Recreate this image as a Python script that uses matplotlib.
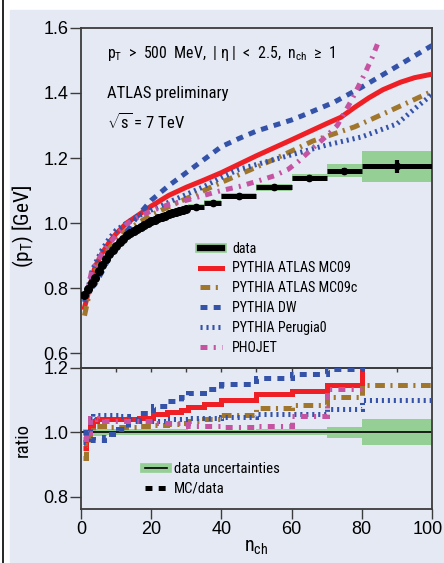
import numpy as np
import matplotlib
matplotlib.use('Agg')
import matplotlib.pyplot as plt
from matplotlib.lines import Line2D
from matplotlib.patches import Rectangle
import matplotlib.transforms as mtransforms

# ---- data: <pT> vs n_ch (single bins up to 30, wider after)
n_single = np.arange(1, 31)
pt_single = [0.780, 0.798, 0.815, 0.832, 0.852, 0.872, 0.889, 0.904, 0.918, 0.930,
             0.941, 0.952, 0.962, 0.970, 0.977, 0.983, 0.989, 0.995, 1.000, 1.005,
             1.010, 1.015, 1.019, 1.023, 1.027, 1.031, 1.035, 1.038, 1.041, 1.044]
syst_single = 0.009
wide_lo = [30.5, 35, 40, 50, 60, 70, 80]
wide_hi = [35, 40, 50, 60, 70, 80, 100]
pt_wide = [1.050, 1.063, 1.084, 1.110, 1.140, 1.161, 1.174]
syst_wide = [0.008, 0.008, 0.009, 0.010, 0.011, 0.020, 0.047]
stat_wide = [0.002, 0.002, 0.003, 0.004, 0.005, 0.008, 0.020]

# ---- MC predictions (top panel)
mc09_n = [1, 2, 3, 4, 6, 8, 10, 13, 16, 20, 25, 30, 35, 40, 50, 60, 66, 70, 74, 78, 82, 86,
          91, 95, 100]
mc09_pt = [0.740, 0.782, 0.827, 0.865, 0.907, 0.940, 0.967, 1.000, 1.022, 1.052, 1.085, 1.110,
           1.132, 1.155, 1.207, 1.256, 1.286, 1.306, 1.325, 1.356, 1.385, 1.410, 1.433, 1.447,
           1.458]
mc09c_n = [1, 2, 3, 4, 6, 8, 10, 13, 16, 20, 25, 30, 35, 40, 50, 55, 66, 78, 88, 100]
mc09c_pt = [0.715, 0.765, 0.815, 0.850, 0.888, 0.922, 0.945, 0.977, 0.998, 1.025, 1.050, 1.075,
            1.100, 1.125, 1.172, 1.196, 1.252, 1.296, 1.345, 1.405]
dw_n = [1, 2, 3, 4, 6, 8, 10, 13, 16, 20, 25, 30, 35, 40, 45, 50, 60, 63, 72, 80, 88, 100]
dw_pt = [0.768, 0.786, 0.800, 0.812, 0.850, 0.893, 0.925, 0.972, 1.020, 1.070, 1.115, 1.155,
         1.195, 1.235, 1.260, 1.283, 1.317, 1.330, 1.371, 1.418, 1.469, 1.546]
per_n = [1, 2, 3, 4, 6, 8, 10, 13, 16, 20, 25, 30, 35, 40, 45, 50, 60, 70, 80, 90, 96, 100]
per_pt = [0.757, 0.798, 0.848, 0.874, 0.918, 0.952, 0.978, 1.000, 1.020, 1.040, 1.064, 1.088,
          1.112, 1.140, 1.165, 1.180, 1.210, 1.240, 1.265, 1.305, 1.360, 1.395]
pho_n = [1, 2, 3, 4, 6, 8, 10, 13, 16, 20, 25, 30, 35, 40, 45, 50, 55, 59, 62, 66, 70, 73,
         77, 81, 83, 85]
pho_pt = [0.765, 0.798, 0.850, 0.870, 0.905, 0.935, 0.963, 0.997, 1.017, 1.037, 1.057, 1.070,
          1.085, 1.100, 1.112, 1.128, 1.145, 1.165, 1.190, 1.230, 1.268, 1.300, 1.376, 1.463,
          1.510, 1.565]

# ---- ratio MC/data (bottom panel), step bins
r_edges = [0.5, 1.5, 2.5, 3.5, 4.5, 6.5, 8.5, 10.5, 13.5, 16.5, 20.5, 24.5, 28.5, 30.5,
           35, 40, 50, 60, 70, 80, 100]
r_mc09 = [0.95, 0.98, 1.015, 1.035, 1.04, 1.04, 1.04, 1.04, 1.04, 1.045, 1.055, 1.063, 1.07,
          1.078, 1.088, 1.10, 1.118, 1.128, 1.146, 1.23]
r_mc09c = [0.92, 0.96, 1.0, 1.02, 1.02, 1.02, 1.015, 1.015, 1.015, 1.02, 1.022, 1.025, 1.03,
           1.035, 1.04, 1.054, 1.074, 1.085, 1.11, 1.146]
r_dw = [1.0, 0.985, 0.98, 0.975, 0.975, 0.985, 0.995, 1.01, 1.035, 1.06, 1.08, 1.097, 1.108,
        1.123, 1.135, 1.151, 1.169, 1.18, 1.195, 1.26]
r_per = [0.97, 1.0, 1.04, 1.05, 1.054, 1.054, 1.054, 1.05, 1.04, 1.036, 1.036, 1.04, 1.04,
         1.045, 1.045, 1.048, 1.055, 1.058, 1.072, 1.10]
r_pho = [0.98, 1.0, 1.045, 1.045, 1.04, 1.035, 1.035, 1.036, 1.036, 1.034, 1.03, 1.028, 1.025,
         1.02, 1.02, 1.017, 1.02, 1.05, 1.135]

BG = '#e5e9f4'
GREEN = '#96cf96'
RED = '#ee2026'
BROWN = '#a0762c'
BLUE = '#3352a8'
MAG = '#c653a2'
SPINE = '#3c3c3c'

plt.rcParams['font.family'] = ['Roboto Condensed', 'Liberation Sans Narrow', 'Liberation Sans',
                               'DejaVu Sans']
plt.rcParams['mathtext.fontset'] = 'custom'
plt.rcParams['mathtext.rm'] = 'Roboto Condensed'
plt.rcParams['mathtext.it'] = 'Roboto Condensed'
plt.rcParams['lines.scale_dashes'] = False

W, H = 444, 563
PX = 100 / 72  # pixels per point

styles = {
    'mc09': dict(color=RED, lw=3.6, ls='-'),
    'mc09c': dict(color=BROWN, lw=3.6, ls=(0, (7, 4, 1.5, 4))),
    'dw': dict(color=BLUE, lw=3.6, ls=(0, (5, 4.5))),
    'per': dict(color=BLUE, lw=3.6, ls=(0, (1.5, 2.8))),
    'pho': dict(color=MAG, lw=3.6, ls=(0, (5, 4.5, 1.5, 4.5))),
}

fig = plt.figure(figsize=(W / 100, H / 100), dpi=100)
fig.patch.set_facecolor('white')
renderer = fig.canvas.get_renderer()


def fit_size(s, target_px, base=10):
    # font size that gives the string the width seen in the reference
    t = fig.text(0, 0, s, fontsize=base)
    w = t.get_window_extent(renderer).width
    t.remove()
    return base * target_px / w


fig.add_artist(Rectangle((10 / W, 0), 1, (H - 10) / H, transform=fig.transFigure,
                         color=BG, zorder=-10))
fig.add_artist(Line2D([2.5 / W, 2.5 / W], [0, 1], transform=fig.transFigure,
                      color='k', lw=1.2))

ax1 = fig.add_axes([0.1824, 0.3469, 0.7905, 0.6034])
ax2 = fig.add_axes([0.1824, 0.0964, 0.7905, 0.2505])
for ax in (ax1, ax2):
    ax.set_facecolor('none')
    for s in ax.spines.values():
        s.set_color(SPINE)
        s.set_linewidth(1.3)
    ax.set_xlim(0, 100)

# ---------- top panel
lo_all = list(n_single - 0.5) + wide_lo
hi_all = list(n_single + 0.5) + wide_hi
pt_all = list(pt_single) + pt_wide
err_all = [syst_single] * len(pt_single) + syst_wide
for lo, hi, v, e in zip(lo_all, hi_all, pt_all, err_all):
    ax1.fill_between([lo, hi], v - e, v + e, color=GREEN, lw=0, zorder=1)

ax1.plot(mc09_n, mc09_pt, zorder=3, **styles['mc09'])
ax1.plot(mc09c_n, mc09c_pt, zorder=3, **styles['mc09c'])
ax1.plot(dw_n, dw_pt, zorder=3, **styles['dw'])
ax1.plot(per_n, per_pt, zorder=3, **styles['per'])
ax1.plot(pho_n, pho_pt, zorder=3, **styles['pho'])

ax1.hlines(pt_all, lo_all, hi_all, color='k', lw=3.6, zorder=4)
ax1.plot(n_single, pt_single, 'o', color='k', ms=5.5, zorder=5)
wide_c = [(a + b) / 2 for a, b in zip(wide_lo, wide_hi)]
ax1.errorbar(wide_c, pt_wide, yerr=stat_wide, fmt='o', color='k', ms=4.5,
             elinewidth=3, capsize=0, zorder=5)

ax1.set_ylim(0.555, 1.6)
ax1.set_yticks([0.6, 0.8, 1.0, 1.2, 1.4, 1.6])
ax1.set_xticks(np.arange(10, 100, 10))
ax1.tick_params(axis='x', direction='out', length=3, width=1, color=SPINE, labelbottom=False)
ax1.tick_params(axis='y', direction='out', length=8, width=1, color=SPINE, pad=1,
                labelsize=13, labelfontfamily='Liberation Sans')

line1 = r'$\mathrm{p_T}$  >  500  MeV,  | η |  <  2.5,  $\mathrm{n_{ch}}$  ≥  1'
fs1 = fit_size(line1, 228)
fs2 = fit_size('ATLAS preliminary', 121)
ax1.text(0.074, 0.926, line1, transform=ax1.transAxes, fontsize=fs1, va='center')
ax1.text(0.074, 0.808, 'ATLAS preliminary', transform=ax1.transAxes, fontsize=fs2,
         va='center')
ax1.text(0.074, 0.723, r'$\sqrt{\mathrm{s}}$ = 7 TeV', transform=ax1.transAxes,
         fontsize=fs2, va='center')

ylab = r'($\mathrm{p_T}$) [GeV]'
fig.text(23 / W, 1 - 227 / H, ylab, rotation=90, fontsize=fit_size(ylab, 84),
         ha='center', va='center')

# top legend: rows ~18.6 px apart, handles 200-222 px, text from 232 px
leg_fs = fit_size('PYTHIA ATLAS MC09', 118)
fpx = leg_fs * PX
h_data = (Line2D([], [], color=GREEN, lw=7), Line2D([], [], color='k', lw=4.5))
h_list = [h_data] + [Line2D([], [], **styles[k]) for k in ['mc09', 'mc09c', 'dw', 'per', 'pho']]
labels = ['data', 'PYTHIA ATLAS MC09', 'PYTHIA ATLAS MC09c', 'PYTHIA DW',
          'PYTHIA Perugia0', 'PHOJET']
ax1.legend(h_list, labels, loc='upper left',
           bbox_to_anchor=(200 / W, 1 - (248 - 0.46 * fpx) / H),
           bbox_transform=fig.transFigure, frameon=False, fontsize=leg_fs,
           handlelength=22 / fpx, handletextpad=10 / fpx,
           labelspacing=(18.6 - 0.915 * fpx) / fpx, borderpad=0, borderaxespad=0)

# ---------- ratio panel
for lo, hi, v, e in zip(lo_all, hi_all, pt_all, err_all):
    ax2.fill_between([lo, hi], 1 - e / v, 1 + e / v, color=GREEN, lw=0, zorder=1)
ax2.axhline(1.0, color='k', lw=1.2, zorder=2)
ax2.stairs(r_mc09, r_edges, baseline=None, zorder=3, **styles['mc09'])
ax2.stairs(r_mc09c, r_edges, baseline=None, zorder=3, **styles['mc09c'])
ax2.stairs(r_dw, r_edges, baseline=None, zorder=3, **styles['dw'])
ax2.stairs(r_per, r_edges, baseline=None, zorder=3, **styles['per'])
ax2.stairs(r_pho, r_edges[:-1], baseline=None, zorder=3, **styles['pho'])

ax2.set_ylim(0.763, 1.2)
ax2.set_yticks([0.8, 1.0, 1.2])
ax2.set_xticks(np.arange(0, 101, 20))
ax2.tick_params(direction='out', length=7, width=1, color=SPINE, pad=2, labelsize=13,
                labelfontfamily='Liberation Sans')
ax2.tick_params(axis='y', length=8, pad=1)

# last x label sits a little inside the figure edge
lab = ax2.get_xticklabels()[-1]
lab.set_transform(lab.get_transform() +
                  mtransforms.ScaledTranslation(-4 / 100, 0, fig.dpi_scale_trans))

ax2.set_xlabel(r'$\mathrm{n_{ch}}$', fontsize=14.5, labelpad=0)
fig.text(23 / W, 1 - 440 / H, 'ratio', rotation=90, fontsize=13.5,
         ha='center', va='center')

rleg_fs = fit_size('data uncertainties', 104)
rpx = rleg_fs * PX
h_unc = (Line2D([], [], color=GREEN, lw=7), Line2D([], [], color='k', lw=1.2))
h_mc = Line2D([], [], color='k', lw=3.6, ls=(0, (5, 4.5)))
ax2.legend([h_unc, h_mc], ['data uncertainties', 'MC/data'], loc='upper left',
           bbox_to_anchor=(145 / W, 1 - (469 - 0.46 * rpx) / H),
           bbox_transform=fig.transFigure, frameon=False, fontsize=rleg_fs,
           handlelength=22 / rpx, handletextpad=7 / rpx,
           labelspacing=(19 - 0.915 * rpx) / rpx, borderpad=0, borderaxespad=0)

fig.canvas.draw()
fig.savefig('out.png', dpi=100, facecolor=fig.get_facecolor())
